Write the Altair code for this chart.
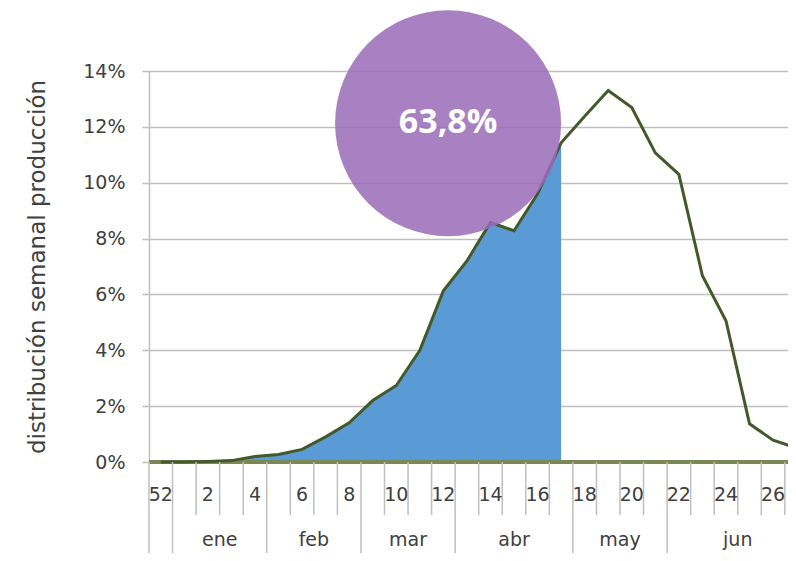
import altair as alt
import pandas as pd

# ---------------- data ----------------
WEEK_LABELS = ["52", "1", "2", "3", "4", "5", "6", "7", "8", "9", "10", "11", "12", "13",
               "14", "15", "16", "17", "18", "19", "20", "21", "22", "23", "24", "25", "26", "27"]
SHARE = [0.0, 0.0, 0.02, 0.05, 0.2, 0.27, 0.45, 0.9, 1.4, 2.2, 2.74, 4.0, 6.13, 7.2,
         8.58, 8.28, 9.6, 11.43, 12.38, 13.3, 12.69, 11.07, 10.3, 6.67, 5.06, 1.37, 0.78, 0.5]
SHADED_LAST_WEEK = "17"

MONTHS = ["ene", "feb", "mar", "abr", "may", "jun"]
MONTH_FIRST_WEEK = ["1", "5", "9", "13", "18", "22"]
MONTH_LAST_WEEK = ["4", "8", "12", "17", "21", "27"]

Y_TICKS = [0, 2, 4, 6, 8, 10, 12, 14]
Y_TITLE = "distribución semanal producción"

TOTAL_LABEL = "63,8%"
TOTAL_AT_WEEK = 12.2    # position of the callout, in week-index units
TOTAL_AT_SHARE = 12.13  # position of the callout, in % units

# ---------------- tables ----------------
idx = list(range(len(WEEK_LABELS)))
df = pd.DataFrame({"k": idx, "week": WEEK_LABELS, "share": SHARE})
last_shaded = WEEK_LABELS.index(SHADED_LAST_WEEK)
area_df = df[df.k <= last_shaded]
wk_lab_df = df[(df.k % 2 == 0)]

first_idx = [WEEK_LABELS.index(w) for w in MONTH_FIRST_WEEK]
last_idx = [WEEK_LABELS.index(w) for w in MONTH_LAST_WEEK]
month_df = pd.DataFrame({
    "month": MONTHS,
    "mid": [(a + b) / 2 for a, b in zip(first_idx, last_idx)],
})
long_bounds = sorted(set([-0.5, 0.5] + [a - 0.5 for a in first_idx] + [b + 0.5 for b in last_idx]))
all_bounds = [k - 0.5 for k in range(len(WEEK_LABELS) + 1)]
short_df = pd.DataFrame({"b": [b for b in all_bounds if b not in long_bounds]})
long_df = pd.DataFrame({"b": long_bounds})
callout_df = pd.DataFrame({"k": [TOTAL_AT_WEEK], "share": [TOTAL_AT_SHARE], "label": [TOTAL_LABEL]})

# ---------------- layout ----------------
W, H = 639, 391
PX_PER_WEEK = 23.55
xs = alt.Scale(domain=[-0.5, -0.5 + W / PX_PER_WEEK], nice=False, zero=False)
ys = alt.Scale(domain=[0, 14], nice=False, zero=True)
TEXT = "#404040"
GRID = "#bfbfbf"
FONT = "DejaVu Sans"

yaxis = alt.Axis(values=Y_TICKS, labelExpr="datum.value + '%'", title=Y_TITLE,
                 grid=True, gridColor=GRID, gridWidth=1.5,
                 domainColor=GRID, domainWidth=1.5,
                 tickColor=GRID, tickWidth=1.5, tickSize=7,
                 labelFont=FONT, labelFontSize=19, labelColor=TEXT, labelPadding=17,
                 titleFont=FONT, titleFontSize=23, titleFontWeight="normal",
                 titleColor=TEXT, titlePadding=33)

X = lambda f: alt.X(f, scale=xs, axis=None)
Y = lambda f: alt.Y(f, scale=ys, axis=yaxis)

area = alt.Chart(area_df).mark_area(color="#5b9bd5", opacity=1).encode(
    x=X("k:Q"), y=Y("share:Q"))

baseline = alt.Chart(df).mark_rule(color="#7d8656", strokeWidth=2.5).encode(
    y=alt.Y(datum=0, scale=ys, axis=yaxis))

line = alt.Chart(df).mark_line(color="#44592a", strokeWidth=3).encode(
    x=X("k:Q"), y=Y("share:Q"))

short_ticks = alt.Chart(short_df).mark_rule(color=GRID, strokeWidth=1.5).encode(
    x=X("b:Q"), y=alt.value(H), y2=alt.value(H + 53))

long_ticks = alt.Chart(long_df).mark_rule(color=GRID, strokeWidth=1.5).encode(
    x=X("b:Q"), y=alt.value(H), y2=alt.value(H + 110))

week_text = alt.Chart(wk_lab_df).mark_text(font=FONT, fontSize=19, color=TEXT,
                                            baseline="middle", align="center").encode(
    x=X("k:Q"), y=alt.value(H + 33), text="week:N")

month_text = alt.Chart(month_df).mark_text(font=FONT, fontSize=19, color=TEXT,
                                            baseline="middle", align="center").encode(
    x=X("mid:Q"), y=alt.value(H + 78), text="month:N")

circle = alt.Chart(callout_df).mark_point(shape="circle", filled=True, size=226 * 226,
                                          color="#9a6cb9", opacity=0.86, strokeWidth=0).encode(
    x=X("k:Q"), y=Y("share:Q"))

circle_text = alt.Chart(callout_df).mark_text(font="Open Sans", fontWeight="bold", fontSize=34,
                                               color="white", baseline="middle", align="center").encode(
    x=X("k:Q"), y=Y("share:Q"), text="label:N")

chart = alt.layer(area, baseline, line, short_ticks, long_ticks, week_text, month_text,
                  circle, circle_text).properties(
    width=W, height=H,
    autosize=alt.AutoSizeParams(type="none"),
    padding={"left": 141, "top": 63, "right": 0, "bottom": 91},
    background="white",
).configure_view(stroke=None)

chart.save("out.html", embed_options={"renderer": "svg", "actions": False})
